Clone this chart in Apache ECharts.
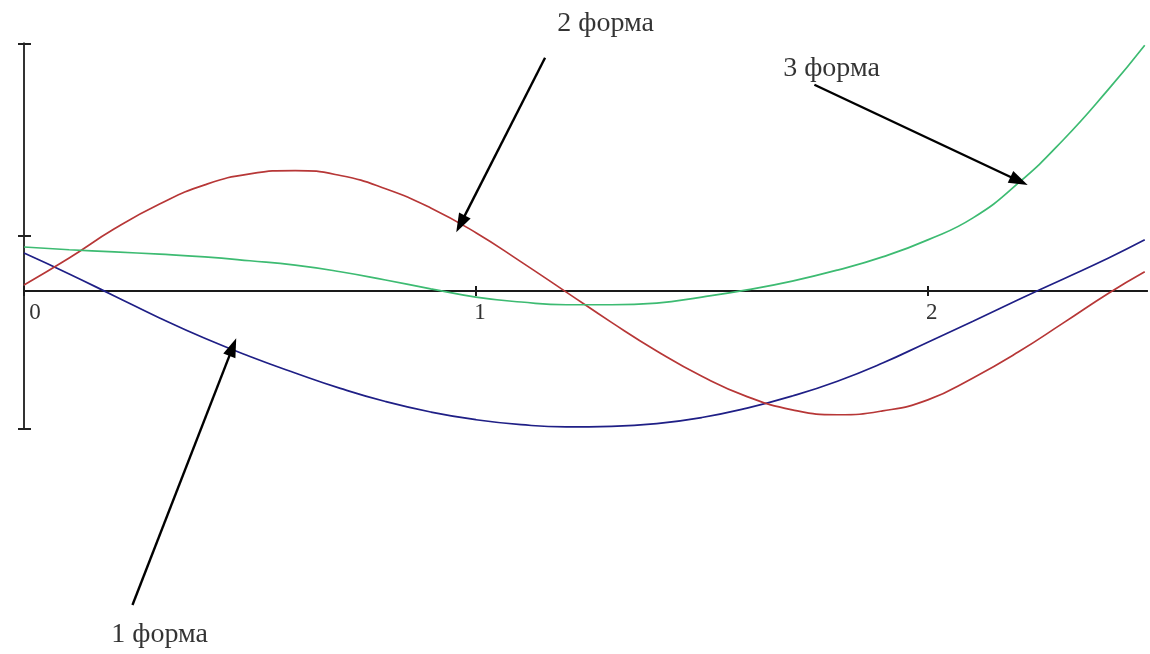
<!DOCTYPE html>
<html>
<head>
<meta charset="utf-8">
<title>Формы колебаний</title>
<script src="https://cdn.jsdelivr.net/npm/echarts@6/dist/echarts.min.js"></script>
<style>
  html, body { margin: 0; padding: 0; background: #ffffff; }
  #chart { width: 1150px; height: 654px; }
</style>
</head>
<body>
<div id="chart"></div>
<script>
// Sample positions along the beam (x) and the three mode shapes
const xs = [0, 0.1, 0.2, 0.3, 0.4, 0.5, 0.6, 0.7, 0.8, 0.9, 1.0, 1.1, 1.2, 1.3,
            1.4, 1.5, 1.6, 1.7, 1.8, 1.9, 2.0, 2.1, 2.2, 2.3, 2.4, 2.48];
const mode1 = [0.69, 0.31, -0.09, -0.49, -0.86, -1.19, -1.49, -1.77, -2.01, -2.20,
               -2.34, -2.43, -2.47, -2.46, -2.41, -2.30, -2.13, -1.91, -1.64, -1.31,
               -0.93, -0.55, -0.16, 0.22, 0.60, 0.93];
const mode2 = [0.11, 0.60, 1.13, 1.58, 1.93, 2.13, 2.19, 2.10, 1.86, 1.51,
               1.06, 0.53, -0.02, -0.57, -1.09, -1.55, -1.92, -2.16, -2.25, -2.18,
               -1.98, -1.58, -1.11, -0.58, -0.04, 0.35];
const mode3 = [0.80, 0.75, 0.71, 0.67, 0.62, 0.55, 0.47, 0.35, 0.20, 0.04,
               -0.11, -0.20, -0.25, -0.25, -0.22, -0.11, 0.02, 0.18, 0.38, 0.62,
               0.93, 1.33, 1.96, 2.75, 3.67, 4.47];
const xTickValues = [0, 1, 2];
const yTickValues = [-2.5, 1, 4.5];

// Captions with the arrows that point from them to their curves (data units)
const captionNames = ['1 форма', '2 форма', '3 форма'];
const captionAt = [[0.30, -6.24], [1.287, 4.87], [1.787, 4.04]];
const arrowFrom = [[0.24, -5.71], [1.153, 4.24], [1.749, 3.75]];
const arrowTo = [[0.462, -1.02], [0.966, 1.22], [2.202, 2.00]];

const X_MIN = 0, X_MAX = 2.485, Y_MIN = -2.5, Y_MAX = 4.5;
const W = 1150, H = 654;
const plot = { left: 24, right: 3, top: 43.5, bottom: 225.5 };
const pxPerY = (H - plot.top - plot.bottom) / (Y_MAX - Y_MIN);
// The x axis sits on y = 0, measured up from the bottom edge of the plot
const zeroOffset = -(0 - Y_MIN) * pxPerY;
// Overlay grid spans the whole canvas with the same scale, for captions and arrows
const overMax = Y_MAX + plot.top / pxPerY;
const overMin = overMax - H / pxPerY;

const pairs = (ys) => xs.map((x, i) => [x, ys[i]]);
const axisColor = '#1a1a1a';
const labelFont = { fontFamily: 'Liberation Serif', fontSize: 23, color: '#333' };

const xAxisBase = {
  type: 'value', gridIndex: 0, min: X_MIN, max: X_MAX, interval: 1,
  position: 'bottom', offset: zeroOffset,
  axisLine: { onZero: false, lineStyle: { color: axisColor, width: 2 } },
  splitLine: { show: false }
};
const yAxisBase = {
  type: 'value', gridIndex: 0, min: Y_MIN, max: Y_MAX, position: 'left',
  axisLine: { onZero: false, lineStyle: { color: '#333', width: 2 } },
  axisLabel: { show: false },
  splitLine: { show: false }
};

const chart = echarts.init(document.getElementById('chart'), null, { renderer: 'canvas' });
chart.setOption({
  backgroundColor: '#ffffff',
  animation: false,
  grid: [
    { left: plot.left, right: plot.right, top: plot.top, bottom: plot.bottom,
      containLabel: false, outerBoundsMode: 'none' },
    { left: plot.left, right: plot.right, top: 0, bottom: 0,
      containLabel: false, outerBoundsMode: 'none' }
  ],
  xAxis: [
    Object.assign({}, xAxisBase, {
      axisTick: { inside: false, length: 5, customValues: xTickValues,
                  lineStyle: { color: axisColor, width: 2 } },
      axisLabel: Object.assign({
        margin: 10,
        customValues: xTickValues,
        formatter: (v) => (v === 0 ? '{z|0}' : '{n|' + v + '}'),
        rich: {
          z: Object.assign({ padding: [0, 0, 0, 22] }, labelFont),
          n: Object.assign({ padding: [0, 0, 0, 8] }, labelFont)
        }
      }, labelFont)
    }),
    Object.assign({}, xAxisBase, {
      axisTick: { inside: true, length: 5, customValues: xTickValues,
                  lineStyle: { color: axisColor, width: 2 } },
      axisLabel: { show: false }
    }),
    { type: 'value', gridIndex: 1, min: X_MIN, max: X_MAX, show: false }
  ],
  yAxis: [
    Object.assign({}, yAxisBase, {
      axisTick: { inside: false, length: 6, customValues: yTickValues,
                  lineStyle: { color: '#222', width: 2 } }
    }),
    Object.assign({}, yAxisBase, {
      axisTick: { inside: true, length: 7, customValues: yTickValues,
                  lineStyle: { color: '#222', width: 2 } }
    }),
    { type: 'value', gridIndex: 1, min: overMin, max: overMax, show: false }
  ],
  series: [
    {
      name: '1 форма', type: 'line', xAxisIndex: 0, yAxisIndex: 0,
      data: pairs(mode1), smooth: 0.5, showSymbol: false,
      lineStyle: { color: '#1f1f86', width: 1.7 }
    },
    {
      name: '2 форма', type: 'line', xAxisIndex: 0, yAxisIndex: 0,
      data: pairs(mode2), smooth: 0.5, showSymbol: false,
      lineStyle: { color: '#b73737', width: 1.7 }
    },
    {
      name: '3 форма', type: 'line', xAxisIndex: 0, yAxisIndex: 0,
      data: pairs(mode3), smooth: 0.5, showSymbol: false,
      lineStyle: { color: '#3dbb72', width: 1.7 }
    },
    {
      name: 'captions', type: 'scatter', xAxisIndex: 2, yAxisIndex: 2,
      symbolSize: 0, silent: true,
      data: captionNames.map((n, i) => ({ name: n, value: captionAt[i] })),
      label: {
        show: true, position: 'inside', formatter: '{b}',
        fontFamily: 'Liberation Serif', fontSize: 28, color: '#000'
      },
      markLine: {
        silent: true, animation: false,
        symbol: ['none', 'triangle'], symbolSize: [13, 19],
        lineStyle: { color: '#000', width: 2.4, type: 'solid' },
        label: { show: false },
        data: arrowFrom.map((p, i) => [{ coord: p }, { coord: arrowTo[i] }])
      }
    }
  ]
});
</script>
</body>
</html>
